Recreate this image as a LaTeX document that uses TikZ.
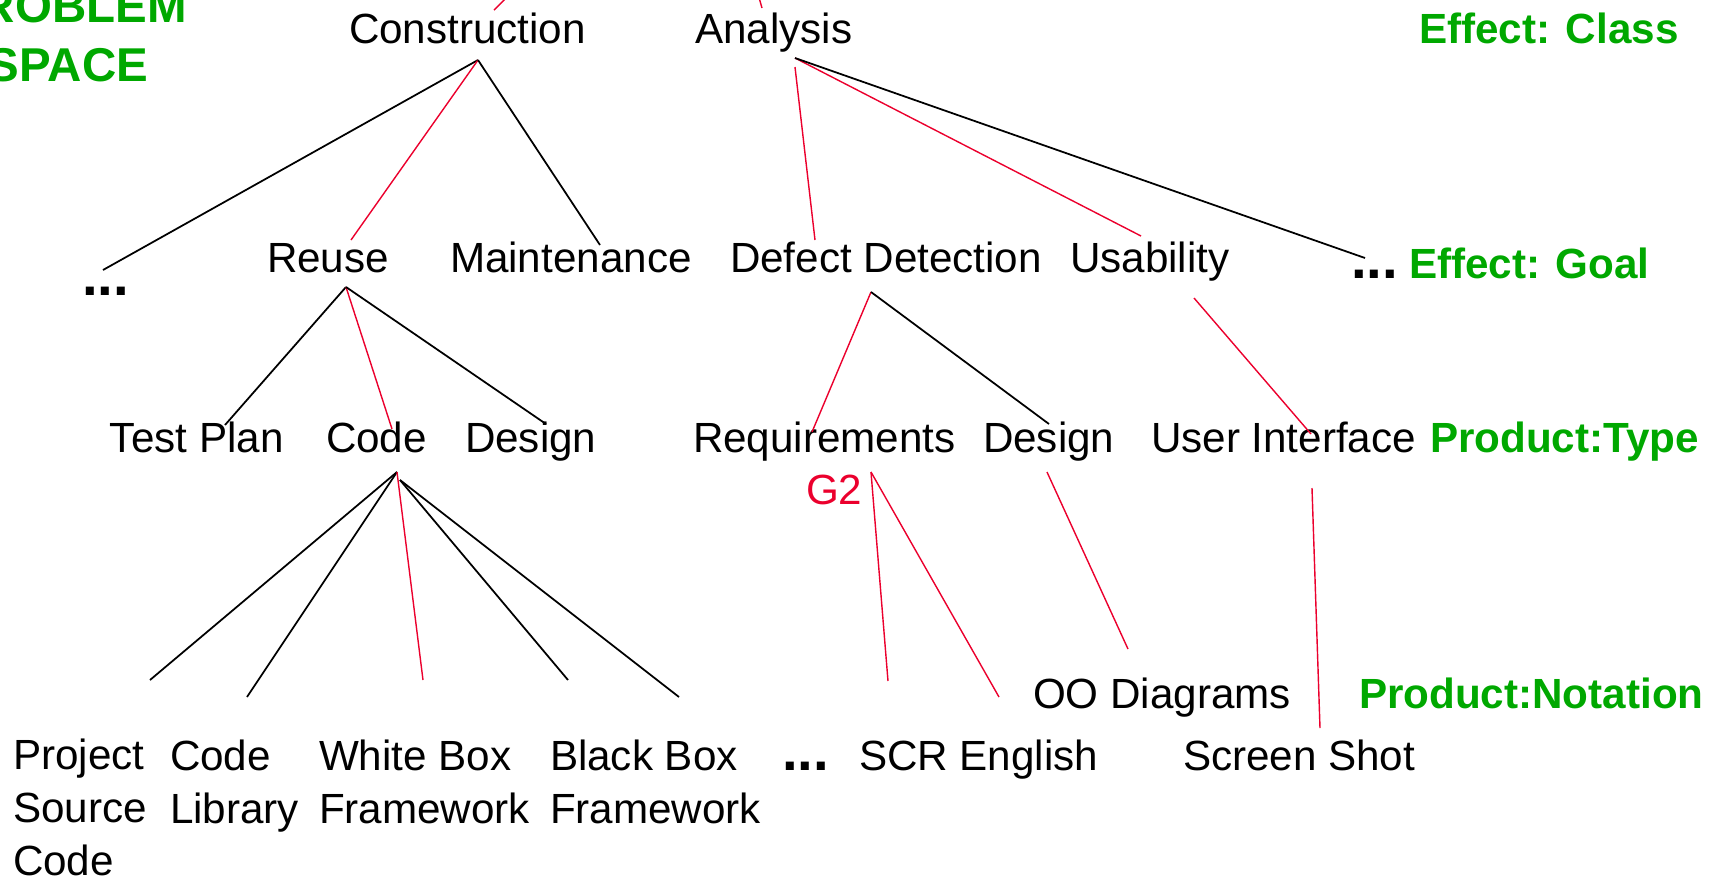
\documentclass[tikz,border=0pt]{standalone}
\usepackage{fontspec}
\setmainfont{Liberation Sans}
\usetikzlibrary{calc}
\definecolor{treegreen}{RGB}{0,168,0}
\definecolor{linkred}{RGB}{235,0,45}
\begin{document}
\begin{tikzpicture}[x=0.01cm,y=-0.01cm,
  every node/.style={inner sep=0pt,outer sep=0pt,anchor=base west},
  lbl/.style={font=\fontsize{12}{15}\selectfont,align=left},
  tag/.style={font=\bfseries\fontsize{12}{15}\selectfont,text=treegreen},
  ellip/.style={font=\bfseries\fontsize{16}{18}\selectfont},
  gtag/.style={font=\fontsize{12}{15}\selectfont,text=linkred},
  blk/.style={draw=black,line width=0.5pt},
  rd/.style={draw=linkred,line width=0.4pt}]
\useasboundingbox (0,0) rectangle (1723,881);
\clip (0,0) rectangle (1723,881);

% ---- text of the tree (multi-line nodes sit on their last baseline) ----
\node[tag,font=\bfseries\fontsize{13.5}{16.5}\selectfont,align=center,anchor=base] (space) at (68,81) {PROBLEM\\SPACE};
\node[lbl] (con) at (349,43) {Construction};
\node[lbl] (ana) at (695,43) {Analysis};
\node[tag] (ecls) at (1419,43) {Effect: Class};

\node[ellip] (dA) at (82,295) {...};
\node[lbl] (reu) at (267,272) {Reuse};
\node[lbl] (mai) at (450,272) {Maintenance};
\node[lbl] (dd) at (730,272) {Defect Detection};
\node[lbl] (usa) at (1070,272) {Usability};
\node[ellip] (dB) at (1351,278) {...};
\node[tag] (egoal) at (1409,278) {Effect: Goal};

\node[lbl] (tp) at (110,452) {Test Plan};
\node[lbl] (code) at (326,452) {Code};
\node[lbl] (des1) at (465,452) {Design};
\node[lbl] (req) at (693,452) {Requirements};
\node[lbl] (des2) at (983,452) {Design};
\node[lbl] (ui) at (1151,452) {User Interface};
\node[tag] (ptype) at (1430,452) {Product:Type};
\node[gtag] (g2) at (806,504) {G2};

\node[lbl] (oo) at (1033,708) {OO Diagrams};
\node[tag] (pnot) at (1359,708) {Product:Notation};

\node[lbl] (psc) at (13,875) {Project\\Source\\Code};
\node[lbl] (clib) at (170,823) {Code\\Library};
\node[lbl] (wbf) at (319,823) {White Box\\Framework};
\node[lbl] (bbf) at (550,823) {Black Box\\Framework};
\node[ellip] (dC) at (782,770) {...};
\node[lbl] (scr) at (859,770) {SCR English};
\node[lbl] (ss) at (1183,770) {Screen Shot};

% ---- branch points under the parents ----
\coordinate (conO) at ($(con.base west)+(129,17)$);
\coordinate (anaO) at ($(ana.base west)+(100,15)$);
\coordinate (anaO2) at ($(ana.base west)+(100,24)$);
\coordinate (reuO) at ($(reu.base west)+(79,15)$);
\coordinate (ddO) at ($(dd.base west)+(141,20)$);
\coordinate (usaO) at ($(usa.base west)+(124,26)$);
\coordinate (codeO) at ($(code.base west)+(71,20)$);
\coordinate (codeO2) at ($(code.base west)+(74,28)$);
\coordinate (reqO) at ($(req.base west)+(178,20)$);
\coordinate (des2O) at ($(des2.base west)+(64,20)$);
\coordinate (uiO) at ($(ui.base west)+(161,36)$);
% links running up to parents above the top edge
\coordinate (conUp) at (510,-6);
\coordinate (anaUp) at (758,-6);

% ---- links ----
\draw[rd] ($(con.base west)+(145,-33)$) -- (conUp);
\draw[rd] ($(ana.base west)+(67,-35)$) -- (anaUp);

\draw[blk] (conO) -- ($(dA.base west)+(21,-25)$);
\draw[rd]  (conO) -- ($(reu.base west)+(84,-32)$);
\draw[blk] (conO) -- ($(mai.base west)+(150,-27)$);

\draw[rd]  (anaO2) -- ($(dd.base west)+(85,-32)$);
\draw[rd]  (anaO) -- ($(usa.base west)+(71,-36)$);
\draw[blk] (anaO) -- ($(dB.base west)+(14,-20)$);

\draw[blk] (reuO) -- ($(tp.base west)+(115,-27)$);
\draw[rd]  (reuO) -- ($(code.base west)+(66,-23)$);
\draw[blk] (reuO) -- ($(des1.base west)+(81,-28)$);

\draw[rd]  (ddO) -- ($(req.base west)+(119,-20)$);
\draw[blk] (ddO) -- ($(des2.base west)+(66,-28)$);

\draw[rd]  (usaO) -- ($(ui.base west)+(160,-18)$);

\draw[blk] (codeO) -- ($(psc.base west)+(137,-195)$);
\draw[blk] (codeO) -- ($(clib.base west)+(77,-126)$);
\draw[rd]  (codeO) -- ($(wbf.base west)+(104,-143)$);
\draw[blk] (codeO2) -- ($(bbf.base west)+(18,-143)$);
\draw[blk] (codeO2) -- ($(bbf.base west)+(129,-126)$);

\draw[rd] (reqO) -- ($(scr.base west)+(29,-89)$);
\draw[rd] (reqO) -- ($(scr.base west)+(140,-73)$);
\draw[rd] (des2O) -- ($(oo.base west)+(95,-59)$);
\draw[rd] (uiO) -- ($(ss.base west)+(137,-42)$);
\end{tikzpicture}
\end{document}
